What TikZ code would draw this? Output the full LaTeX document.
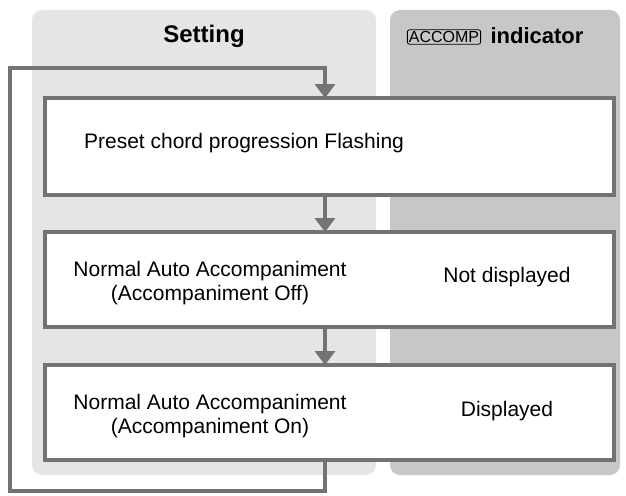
\documentclass[tikz,border=0pt]{standalone}
\usepackage{fontspec}
\setmainfont{Liberation Sans}
\usetikzlibrary{arrows.meta}
\begin{document}
\begin{tikzpicture}[x=1pt,y=-1pt,
  panel/.style={rounded corners=10pt, draw=none},
  box/.style={draw=black!55, line width=3.5pt, fill=white},
  txt/.style={font=\fontsize{21}{24}\selectfont, align=center},
  flow/.style={draw=black!55, line width=4.5pt, -{Triangle[length=14pt,width=20pt]}}]
\useasboundingbox (0,0) rectangle (626,495);
\fill[panel, fill=black!10] (32,10) rectangle (376,475);
\fill[panel, fill=black!22] (390,10) rectangle (620,475);
\node[font=\fontsize{24}{28}\selectfont\bfseries] (hs) at (204,36) {Setting};
\node[draw, rounded corners=2pt, line width=0.8pt, inner sep=1.5pt, font=\fontsize{16}{18}\selectfont] (acc) at (444,37) {ACCOMP};
\node[font=\fontsize{22}{26}\selectfont\bfseries, anchor=west] (hi) at (487,36) {indicator};
\draw[box] (45,98) rectangle (614,195);
\draw[box] (45,232) rectangle (614,327);
\draw[box] (45,365) rectangle (614,460);
\coordinate (b1t) at (325,98);
\coordinate (b1b) at (325,195);
\coordinate (b2t) at (325,232);
\coordinate (b2b) at (325,327);
\coordinate (b3t) at (325,365);
\coordinate (b3b) at (325,460);
\node[txt] (t1) at (244,143) {Preset chord progression Flashing};
\node[txt] (t2) at (210,283) {Normal Auto Accompaniment\\(Accompaniment Off)};
\node[txt] (r2) at (507,277) {Not displayed};
\node[txt] (t3) at (210,416) {Normal Auto Accompaniment\\(Accompaniment On)};
\node[txt] (r3) at (507,411) {Displayed};
\draw[flow] (b1b) -- (b2t);
\draw[flow] (b2b) -- (b3t);
\draw[flow] (b3b) -- (325,491) -- (10,491) -- (10,68) -- (325,68) -- (b1t);
\end{tikzpicture}
\end{document}
